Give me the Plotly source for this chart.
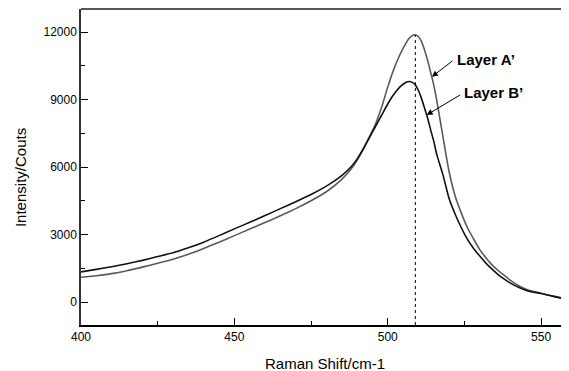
import plotly.graph_objects as go

# Raman shift (cm-1)
shift = [400, 405, 410, 415, 420, 425, 430, 435, 440, 445, 450, 455, 460, 465, 470,
         475, 480, 485, 488, 490, 492, 494, 496, 498, 500, 502, 504, 506, 507, 508,
         509, 510, 511, 512, 513, 514, 515, 516, 518, 520, 522, 524, 526, 528, 530,
         532, 534, 536, 538, 540, 543, 546, 550, 554, 559]

layer_a = [1100, 1170, 1260, 1390, 1550, 1720, 1900, 2120, 2380, 2660, 2950, 3240, 3530, 3830, 4150,
           4500, 4900, 5450, 5900, 6300, 6780, 7330, 7900, 8650, 9550, 10350, 11000, 11520, 11720, 11840,
           11870, 11800, 11580, 11200, 10750, 10200, 9650, 8950, 7350, 5800, 4700, 3950, 3300, 2800, 2330,
           1970, 1650, 1400, 1180, 960, 700, 520, 390, 260, 130]

layer_b = [1340, 1450, 1570, 1700, 1850, 2020, 2190, 2410, 2660, 2950, 3250, 3540, 3840, 4150, 4460,
           4780, 5150, 5620, 6000, 6350, 6800, 7300, 7800, 8300, 8800, 9230, 9560, 9770, 9800, 9760,
           9650, 9400, 9050, 8620, 8180, 7650, 7150, 6550, 5650, 4600, 3900, 3300, 2780, 2380, 2040,
           1730, 1460, 1220, 1020, 840, 630, 480, 380, 250, 100]

peak_shift = 509
peak_a = 11870

x_ticks = [400, 450, 500, 550]
y_ticks = [0, 3000, 6000, 9000, 12000]
y_tick_text = ["0", "3000", "6000", "9000", "12000"]

fig = go.Figure()
fig.add_trace(go.Scatter(x=shift, y=layer_a, mode="lines", name="Layer A'",
                         line=dict(color="#5a5a5a", width=1.6, shape="spline", smoothing=0.5)))
fig.add_trace(go.Scatter(x=shift, y=layer_b, mode="lines", name="Layer B'",
                         line=dict(color="#111111", width=1.6, shape="spline", smoothing=0.5)))

# dotted vertical line at the peak
fig.add_shape(type="line", x0=peak_shift, x1=peak_shift, y0=-1022, y1=peak_a,
              xref="x", yref="y", line=dict(color="black", width=1, dash="dot"))
# top frame line
fig.add_shape(type="line", x0=0, x1=1, y0=1, y1=1, xref="paper", yref="paper",
              line=dict(color="#555555", width=2))

# arrows
fig.add_annotation(x=514.4, y=10010, ax=22, ay=-17, text="", showarrow=True,
                   arrowhead=2, arrowsize=1.2, arrowwidth=1, arrowcolor="black")
fig.add_annotation(x=512.7, y=8310, ax=35, ay=-21, text="", showarrow=True,
                   arrowhead=2, arrowsize=1.2, arrowwidth=1, arrowcolor="black")

# labels
fig.add_annotation(x=400 + (455 - 81) / 3.0667, y=(302 - 59) / 22.5 * 1000, xref="x", yref="y",
                   text="<b>Layer A’</b>", showarrow=False, xanchor="left", yanchor="middle",
                   font=dict(family="Arial, Liberation Sans", size=15, color="black"))
fig.add_annotation(x=400 + (462 - 81) / 3.0667, y=(302 - 92) / 22.5 * 1000, xref="x", yref="y",
                   text="<b>Layer B’</b>", showarrow=False, xanchor="left", yanchor="middle",
                   font=dict(family="Arial, Liberation Sans", size=15, color="black"))

# axis titles
fig.add_annotation(x=0.5, y=-0.123, xref="paper", yref="paper", text="Raman Shift/cm-1",
                   showarrow=False, xanchor="center", yanchor="middle",
                   font=dict(family="Arial, Liberation Sans", size=15, color="black"))
fig.add_annotation(x=-0.125, y=0.465, xref="paper", yref="paper", text="Intensity/Couts",
                   showarrow=False, xanchor="center", yanchor="middle", textangle=-90,
                   font=dict(family="Arial, Liberation Sans", size=15, color="black"))

# page body has an 8px margin: size the figure so it fits the window exactly
fig.update_layout(
    width=561, height=363,
    margin=dict(l=73, r=0, t=1, b=46, autoexpand=False),
    paper_bgcolor="white", plot_bgcolor="white",
    showlegend=False,
    font=dict(family="Arial, Liberation Sans", size=12, color="black"),
)
fig.update_xaxes(
    range=[400, 559.1], tickvals=x_ticks, ticks="inside", ticklen=7, tickwidth=1.2,
    tickcolor="black", showline=True, linecolor="black", linewidth=2, showgrid=False,
    zeroline=False, automargin=False,
    minor=dict(tickvals=[425, 475, 525], ticks="inside", ticklen=4, tickwidth=1.2, tickcolor="black"),
    tickfont=dict(size=12),
)
fig.update_yaxes(
    range=[-1022, 13022], tickvals=y_ticks, ticktext=y_tick_text, ticks="inside", ticklen=7,
    tickwidth=1.2, tickcolor="black", showline=True, linecolor="#333333", linewidth=1.5,
    showgrid=False, zeroline=False, automargin=False,
    minor=dict(tickvals=[1500, 4500, 7500, 10500], ticks="inside", ticklen=4, tickwidth=1.2,
               tickcolor="black"),
    tickfont=dict(size=12),
)

fig.write_html("out.html")
